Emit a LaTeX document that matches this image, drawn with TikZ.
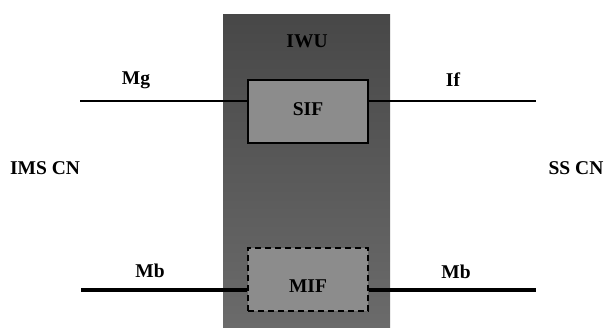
\documentclass[tikz,border=0pt]{standalone}
\usepackage{fontspec}
\setmainfont{Liberation Serif}
\begin{document}
\begin{tikzpicture}[x=1pt,y=-1pt,
  lbl/.style={font=\fontsize{19.5}{21}\selectfont\bfseries, inner sep=0pt, anchor=center},
  fbox/.style={draw=black, line width=1.3pt, fill=black!45, minimum width=120pt, minimum height=63pt, inner sep=0pt},
  thin/.style={line width=1.4pt},
  thick/.style={line width=4pt}]
\useasboundingbox (0,0) rectangle (612,328);
\shade[top color=black!72, bottom color=black!58] (223,15) rectangle (390,328);
\node[lbl] (iwu) at (307,41) {IWU};
\node[fbox] (sif) at (308,111.5) {};
\node[lbl] at (308,109) {SIF};
\node[fbox, dashed, dash pattern=on 6pt off 4pt] (mif) at (308,279.5) {};
\node[lbl] at (308,286) {MIF};
\coordinate (mgL) at (80,101);
\coordinate (ifR) at (536,101);
\coordinate (mbL) at (81,290);
\coordinate (mbR) at (536,290);
\draw[thin] (mgL) -- (mgL -| sif.west);
\draw[thin] (ifR -| sif.east) -- (ifR);
\draw[thick] (mbL) -- (mbL -| mif.west);
\draw[thick] (mbR -| mif.east) -- (mbR);
\node[lbl] (mg) at (136,80) {Mg};
\node[lbl] (if) at (453,80) {If};
\node[lbl] (mb1) at (150,271) {Mb};
\node[lbl] (mb2) at (456,272) {Mb};
\node[lbl] (ims) at (45,168) {IMS CN};
\node[lbl] (ss) at (576,168) {SS CN};
\end{tikzpicture}
\end{document}
